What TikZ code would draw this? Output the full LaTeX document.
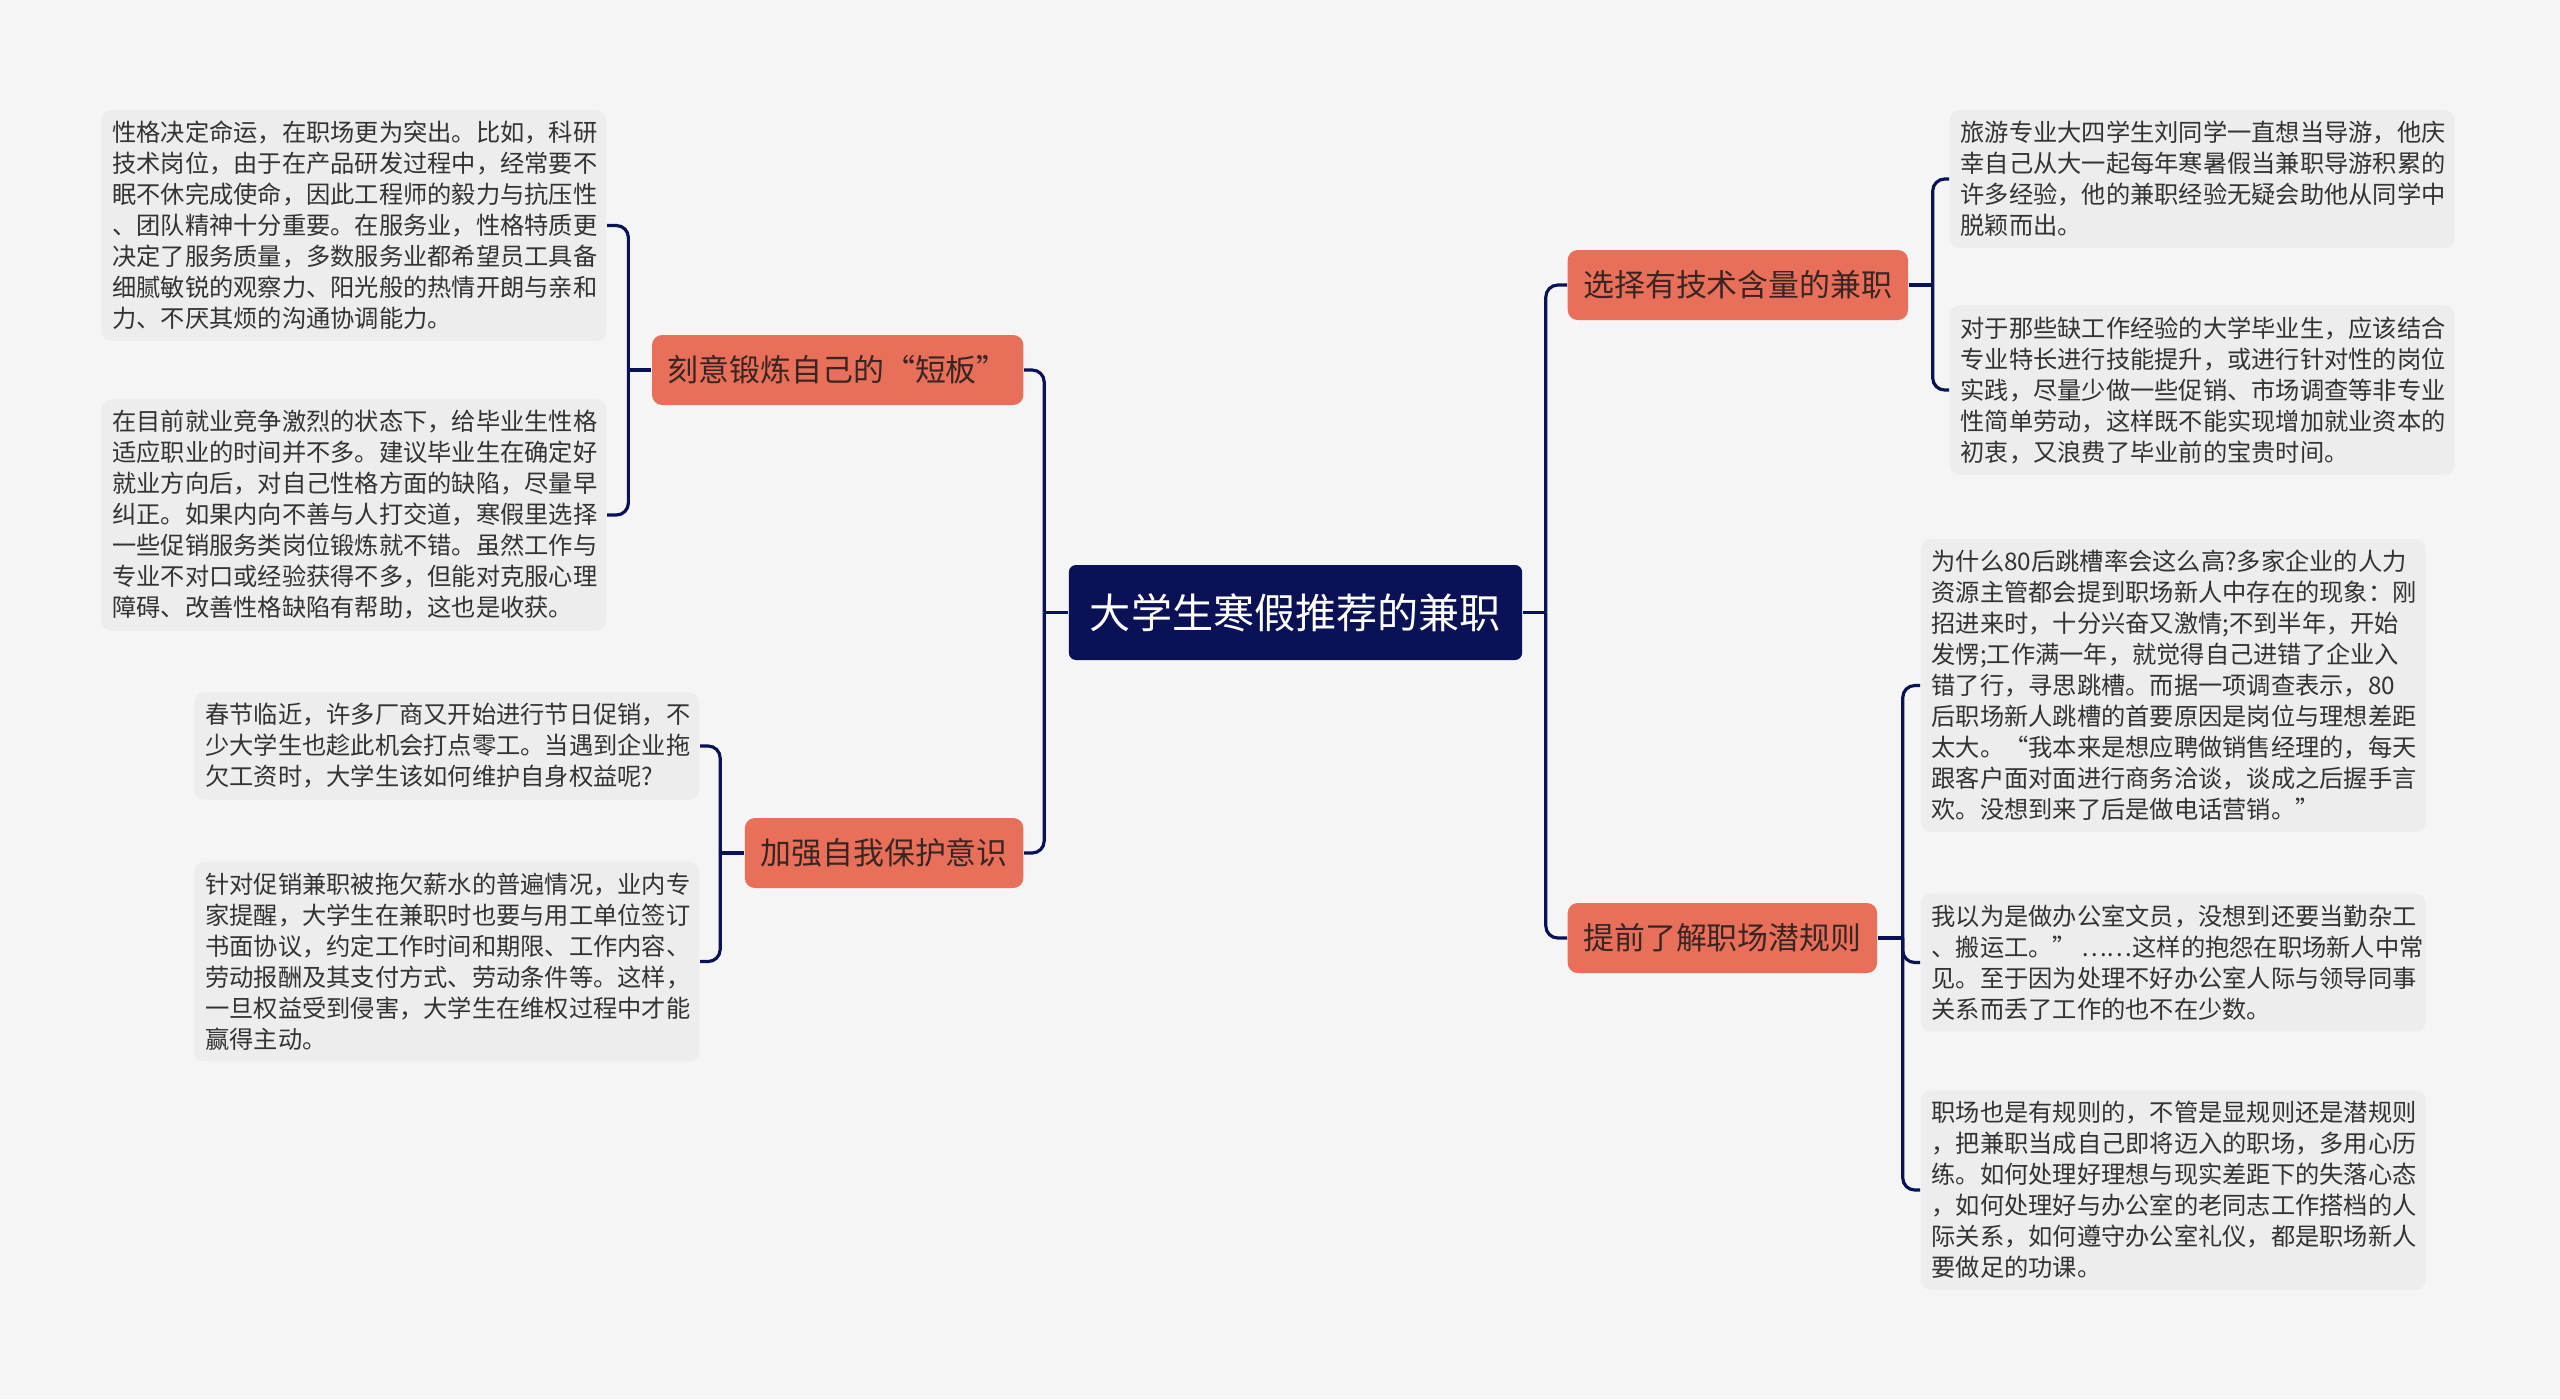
\documentclass[tikz,border=0pt]{standalone}
\usepackage{fontspec}
\setmainfont{Noto Sans CJK SC}
\definecolor{navy}{HTML}{0B1157}
\definecolor{salmon}{HTML}{E8705B}
\definecolor{topictext}{HTML}{3A2522}
\definecolor{leafgray}{HTML}{EDEDED}
\definecolor{leaftext}{HTML}{333333}
\definecolor{bggray}{HTML}{F5F5F5}

\begin{document}
\begin{tikzpicture}[
  link/.style={draw=navy, line width=0.9pt, rounded corners=0.12cm},
  rootbox/.style={fill=navy, text=white, rounded corners=0.07cm, minimum height=0.95cm, inner xsep=0.21cm, font=\fontsize{11.7}{14}\selectfont},
  topic/.style={fill=salmon, text=topictext, rounded corners=0.1cm, minimum height=0.70cm, inner xsep=0.155cm, font=\fontsize{8.8}{10.5}\selectfont},
  leaf/.style={fill=leafgray, text=leaftext, rounded corners=0.1cm, text width=4.83cm, align=left, inner xsep=0.11cm, inner ysep=0.11cm, font=\fontsize{6.9}{8.82}\selectfont},
]
  \fill[bggray] (0,0) rectangle (25.6,-13.99);

  % 中心主题
  \node[rootbox] (root) at (12.955,-6.125) {大学生寒假推荐的兼职};

  % 左侧分支
  \node[topic, anchor=east] (short) at (10.24,-3.70) {刻意锻炼自己的“短板”};
  \node[topic, anchor=east] (protect) at (10.24,-8.53) {加强自我保护意识};
  % 右侧分支
  \node[topic, anchor=west] (skill) at (15.67,-2.85) {选择有技术含量的兼职};
  \node[topic, anchor=west] (rules) at (15.67,-9.38) {提前了解职场潜规则};

  % 叶子
  \node[leaf, anchor=east] (short1) at (6.07,-2.255) {性格决定命运，在职场更为突出。比如，科研\\技术岗位，由于在产品研发过程中，经常要不\\眠不休完成使命，因此工程师的毅力与抗压性\\、团队精神十分重要。在服务业，性格特质更\\决定了服务质量，多数服务业都希望员工具备\\细腻敏锐的观察力、阳光般的热情开朗与亲和\\力、不厌其烦的沟通协调能力。};
  \node[leaf, anchor=east] (short2) at (6.07,-5.15) {在目前就业竞争激烈的状态下，给毕业生性格\\适应职业的时间并不多。建议毕业生在确定好\\就业方向后，对自己性格方面的缺陷，尽量早\\纠正。如果内向不善与人打交道，寒假里选择\\一些促销服务类岗位锻炼就不错。虽然工作与\\专业不对口或经验获得不多，但能对克服心理\\障碍、改善性格缺陷有帮助，这也是收获。};
  \node[leaf, anchor=east] (protect1) at (7.00,-7.46) {春节临近，许多厂商又开始进行节日促销，不\\少大学生也趁此机会打点零工。当遇到企业拖\\欠工资时，大学生该如何维护自身权益呢?};
  \node[leaf, anchor=east] (protect2) at (7.00,-9.615) {针对促销兼职被拖欠薪水的普遍情况，业内专\\家提醒，大学生在兼职时也要与用工单位签订\\书面协议，约定工作时间和期限、工作内容、\\劳动报酬及其支付方式、劳动条件等。这样，\\一旦权益受到侵害，大学生在维权过程中才能\\赢得主动。};
  \node[leaf, anchor=west] (skill1) at (19.49,-1.79) {旅游专业大四学生刘同学一直想当导游，他庆\\幸自己从大一起每年寒暑假当兼职导游积累的\\许多经验，他的兼职经验无疑会助他从同学中\\脱颖而出。};
  \node[leaf, anchor=west] (skill2) at (19.49,-3.90) {对于那些缺工作经验的大学毕业生，应该结合\\专业特长进行技能提升，或进行针对性的岗位\\实践，尽量少做一些促销、市场调查等非专业\\性简单劳动，这样既不能实现增加就业资本的\\初衷，又浪费了毕业前的宝贵时间。};
  \node[leaf, anchor=west] (rules1) at (19.20,-6.855) {为什么80后跳槽率会这么高?多家企业的人力\\资源主管都会提到职场新人中存在的现象：刚\\招进来时，十分兴奋又激情;不到半年，开始\\发愣;工作满一年，就觉得自己进错了企业入\\错了行，寻思跳槽。而据一项调查表示，80\\后职场新人跳槽的首要原因是岗位与理想差距\\太大。“我本来是想应聘做销售经理的，每天\\跟客户面对面进行商务洽谈，谈成之后握手言\\欢。没想到来了后是做电话营销。”};
  \node[leaf, anchor=west] (rules2) at (19.20,-9.625) {我以为是做办公室文员，没想到还要当勤杂工\\、搬运工。”\,……这样的抱怨在职场新人中常\\见。至于因为处理不好办公室人际与领导同事\\关系而丢了工作的也不在少数。};
  \node[leaf, anchor=west] (rules3) at (19.20,-11.90) {职场也是有规则的，不管是显规则还是潜规则\\，把兼职当成自己即将迈入的职场，多用心历\\练。如何处理好理想与现实差距下的失落心态\\，如何处理好与办公室的老同志工作搭档的人\\际关系，如何遵守办公室礼仪，都是职场新人\\要做足的功课。};

  % 连线的分叉点
  \coordinate (jl) at ([xshift=-0.24cm]root.west);
  \coordinate (jr) at ([xshift=0.23cm]root.east);
  \coordinate (jshort) at ([xshift=-0.23cm]short.west);
  \coordinate (jprotect) at ([xshift=-0.24cm]protect.west);
  \coordinate (jskill) at ([xshift=0.24cm]skill.east);
  \coordinate (jrules) at ([xshift=0.25cm]rules.east);

  \draw[link] (root.west) -- (jl);
  \draw[link] (jl) |- (short.east);
  \draw[link] (jl) |- (protect.east);
  \draw[link] (root.east) -- (jr);
  \draw[link] (jr) |- (skill.west);
  \draw[link] (jr) |- (rules.west);

  \draw[link] (short.west) -- (jshort);
  \draw[link] (jshort) |- (short1.east);
  \draw[link] (jshort) |- (short2.east);
  \draw[link] (protect.west) -- (jprotect);
  \draw[link] (jprotect) |- (protect1.east);
  \draw[link] (jprotect) |- (protect2.east);
  \draw[link] (skill.east) -- (jskill);
  \draw[link] (jskill) |- (skill1.west);
  \draw[link] (jskill) |- (skill2.west);
  \draw[link] (rules.east) -- (jrules);
  \draw[link] (jrules) |- (rules1.west);
  \draw[link] (jrules) |- (rules2.west);
  \draw[link] (jrules) |- (rules3.west);
\end{tikzpicture}
\end{document}
